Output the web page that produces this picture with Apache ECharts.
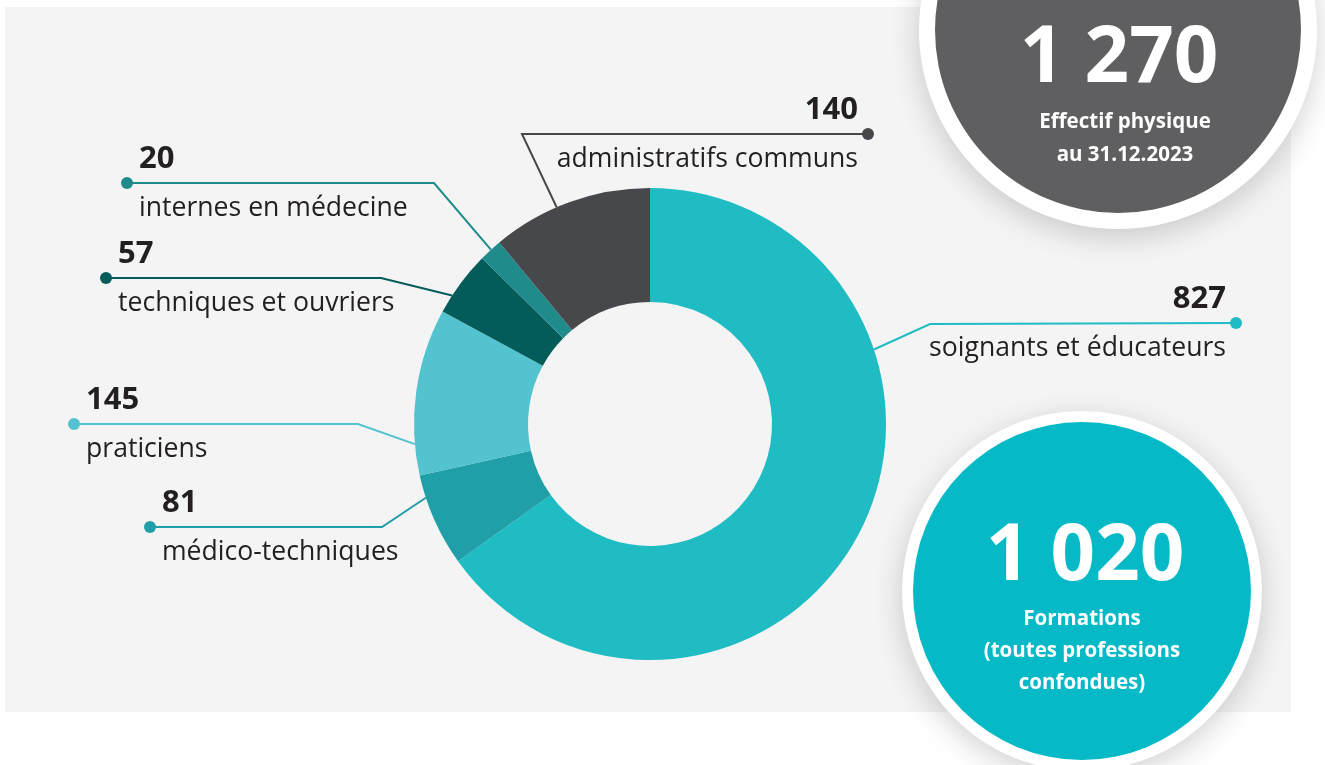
<!DOCTYPE html>
<html>
<head>
<meta charset="utf-8">
<script src="https://cdn.jsdelivr.net/npm/echarts@6/dist/echarts.min.js"></script>
<style>
    html, body { margin: 0; padding: 0; background: #fff; }
    #effectifs { width: 1325px; height: 765px; }
</style>
</head>
<body>
<div id="effectifs"></div>
<script>
    // données
    var categories = ['soignants et éducateurs', 'médico-techniques', 'praticiens',
        'techniques et ouvriers', 'internes en médecine', 'administratifs communs'];
    var values = [827, 81, 145, 57, 20, 140];
    var colors = ['#1FBCC4', '#219FA8', '#52C3CF', '#035C5A', '#1F8B8A', '#47484B'];
    var totalLabel = '1 270';
    var totalText = ['Effectif physique', 'au 31.12.2023'];
    var trainingLabel = '1 020';
    var trainingText = ['Formations', '(toutes professions', 'confondues)'];

    // mise en page des lignes de rappel (angle de départ sur l'anneau, coude, point final)
    var lineAngles = [71.6, 251.8, 265.1, 303, 317.6, 336.7];
    var elbows = [[930, 324], [382, 527], [358, 424], [381, 278], [434, 183], [522, 134]];
    var dots = [[1236, 323], [150, 527], [74, 424], [106, 278], [127, 183], [868, 134]];
    var sides = ['right', 'left', 'left', 'left', 'left', 'right'];

    var cx = 650, cy = 424, rIn = 122, rOut = 236;
    var font = '"Open Sans", "Noto Sans", sans-serif';

    var chart = echarts.init(document.getElementById('effectifs'));

    var pieData = categories.map(function (name, i) {
        return { name: name, value: values[i], itemStyle: { color: colors[i] } };
    });

    var graphics = [
        { type: 'rect', z: -10, shape: { x: 5, y: 7, width: 1286, height: 705 }, style: { fill: '#F4F4F4' } }
    ];
    // points au bout des lignes
    dots.forEach(function (d, i) {
        graphics.push({ type: 'circle', z: 50, shape: { cx: d[0], cy: d[1], r: 6 }, style: { fill: colors[i] } });
    });
    // bulle effectif
    graphics.push({
        type: 'circle', z: 60, shape: { cx: 1118, cy: 30, r: 199 },
        style: { fill: '#fff', shadowBlur: 30, shadowColor: 'rgba(0,0,0,0.18)', shadowOffsetY: 8 }
    });
    graphics.push({ type: 'circle', z: 61, shape: { cx: 1118, cy: 30, r: 183 }, style: { fill: '#5F5F61' } });
    graphics.push({
        type: 'text', z: 62,
        style: { text: totalLabel, x: 1119, y: 60, fill: '#fff', fontSize: 78, fontWeight: 'bold', fontFamily: font, align: 'center', verticalAlign: 'middle' }
    });
    totalText.forEach(function (t, i) {
        graphics.push({
            type: 'text', z: 62,
            style: { text: t, x: 1125, y: 122 + i * 33, fill: '#fff', fontSize: 20.5, fontWeight: 'bold', fontFamily: font, align: 'center', verticalAlign: 'middle' }
        });
    });
    // bulle formations
    graphics.push({
        type: 'circle', z: 60, shape: { cx: 1082, cy: 591, r: 180 },
        style: { fill: '#fff', shadowBlur: 30, shadowColor: 'rgba(0,0,0,0.18)', shadowOffsetY: 8 }
    });
    graphics.push({ type: 'circle', z: 61, shape: { cx: 1082, cy: 591, r: 169 }, style: { fill: '#05BAC6' } });
    graphics.push({
        type: 'text', z: 62,
        style: { text: trainingLabel, x: 1085, y: 558, fill: '#fff', fontSize: 78, fontWeight: 'bold', fontFamily: font, align: 'center', verticalAlign: 'middle' }
    });
    trainingText.forEach(function (t, i) {
        graphics.push({
            type: 'text', z: 62,
            style: { text: t, x: 1082, y: 619 + i * 32, fill: '#fff', fontSize: 20.5, fontWeight: 'bold', fontFamily: font, align: 'center', verticalAlign: 'middle' }
        });
    });

    var option = {
        animation: false,
        backgroundColor: '#fff',
        graphic: graphics,
        series: [
            {
                type: 'pie',
                z: 5,
                center: [cx, cy],
                radius: [rIn, rOut],
                startAngle: 90,
                clockwise: true,
                avoidLabelOverlap: false,
                itemStyle: { borderWidth: 0 },
                emphasis: { disabled: true },
                data: pieData,
                label: {
                    show: true,
                    position: 'outside',
                    formatter: function (p) {
                        var s = sides[p.dataIndex] === 'left' ? 'l' : 'r';
                        return '{v' + s + '|' + p.value + '}\n{n' + s + '|' + p.name + '}';
                    },
                    rich: {
                        vl: { fontSize: 31, fontWeight: 'bold', color: '#231F20', fontFamily: font, lineHeight: 48, align: 'left' },
                        nl: { fontSize: 26.6, color: '#231F20', fontFamily: font, lineHeight: 50, align: 'left' },
                        vr: { fontSize: 31, fontWeight: 'bold', color: '#231F20', fontFamily: font, lineHeight: 48, align: 'right' },
                        nr: { fontSize: 26.6, color: '#231F20', fontFamily: font, lineHeight: 50, align: 'right' }
                    }
                },
                labelLine: { show: true, lineStyle: { width: 2 } },
                labelLayout: function (p) {
                    var i = p.dataIndex;
                    var a = lineAngles[i] * Math.PI / 180;
                    var start = [cx + rOut * Math.sin(a), cy - rOut * Math.cos(a)];
                    var left = sides[i] === 'left';
                    return {
                        x: left ? dots[i][0] + 12 : dots[i][0] - 10,
                        y: dots[i][1] + 1,
                        align: left ? 'left' : 'right',
                        verticalAlign: 'middle',
                        labelLinePoints: [start, elbows[i], dots[i]]
                    };
                }
            }
        ]
    };

    chart.setOption(option);
</script>
</body>
</html>
